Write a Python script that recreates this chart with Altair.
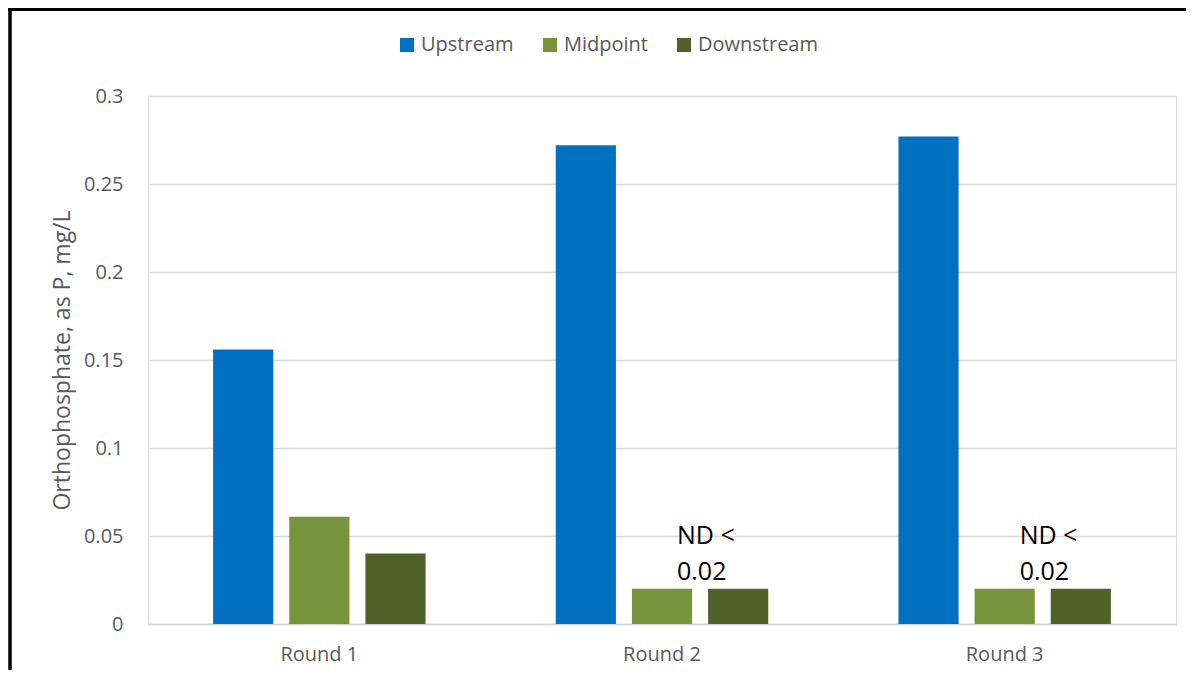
import altair as alt
import pandas as pd

rounds = ["Round 1", "Round 2", "Round 3"]
series = ["Upstream", "Midpoint", "Downstream"]
colors = ["#0070C0", "#77933C", "#4F6228"]
upstream = [0.156, 0.272, 0.277]
midpoint = [0.061, 0.02, 0.02]
downstream = [0.04, 0.02, 0.02]
nd_rounds = ["Round 2", "Round 3"]
nd_series = ["Midpoint", "Midpoint"]
nd_values = [0.02, 0.02]
nd_text = ["ND <\n0.02", "ND <\n0.02"]
y_ticks = [0, 0.05, 0.1, 0.15, 0.2, 0.25, 0.3]

rows = []
for s, vals in zip(series, [upstream, midpoint, downstream]):
    for r, v in zip(rounds, vals):
        rows.append({"Round": r, "Series": s, "Value": v})
df = pd.DataFrame(rows)
nd_df = pd.DataFrame({"Round": nd_rounds, "Series": nd_series, "Value": nd_values, "Label": nd_text})

FONT = "Open Sans"
GREY = "#595959"

x_enc = alt.X("Round:N", sort=rounds,
              scale=alt.Scale(paddingInner=0.38, paddingOuter=0.19),
              axis=alt.Axis(title=None, labelAngle=0, labelFontSize=20, labelColor=GREY,
                            labelFont=FONT, ticks=False, domainColor="#d9d9d9",
                            domainWidth=1.5, labelPadding=20, grid=False))
y_enc = alt.Y("Value:Q",
              scale=alt.Scale(domain=[0, 0.3], nice=False),
              axis=alt.Axis(title="Orthophosphate, as P, mg/L", values=y_ticks, format=".2~f",
                            labelFontSize=20, labelColor=GREY, labelFont=FONT,
                            titleFontSize=23, titleColor=GREY, titleFont=FONT,
                            titleFontWeight="normal", titlePadding=9,
                            ticks=False, domain=False, labelPadding=25,
                            gridColor="#d9d9d9", gridWidth=1.5))

bars = alt.Chart(df).mark_bar().encode(
    x=x_enc,
    xOffset=alt.XOffset("Series:N", sort=series,
                        scale=alt.Scale(domain=series, paddingInner=0.21, paddingOuter=0)),
    y=y_enc,
    color=alt.Color("Series:N", sort=series,
                    scale=alt.Scale(domain=series, range=colors),
                    legend=alt.Legend(title=None, orient="none", direction="horizontal",
                                      legendX=249, legendY=-61,
                                      symbolType="square", symbolSize=196,
                                      symbolStrokeWidth=0, labelFontSize=20,
                                      labelColor=GREY, labelFont=FONT, labelOffset=4,
                                      columnPadding=26)),
)

labels = alt.Chart(nd_df).mark_text(
    align="left", baseline="alphabetic", dx=15, dy=-45, fontSize=25,
    font=FONT, color="#000000", lineBreak="\n", lineHeight=36
).encode(
    x=alt.X("Round:N", sort=rounds),
    xOffset=alt.XOffset("Series:N", sort=series),
    y=alt.Y("Value:Q"),
    text="Label:N",
)

frame_df = pd.DataFrame({"k": [0]})
left_border = alt.Chart(frame_df).mark_rule(color="#000000", strokeWidth=3.5).encode(
    x=alt.value(-138), y=alt.value(-88), y2=alt.value(580))
top_border = alt.Chart(frame_df).mark_rule(color="#000000", strokeWidth=3).encode(
    x=alt.value(-140), x2=alt.value(1040), y=alt.value(-86.5))

chart = alt.layer(bars, labels, left_border, top_border).properties(
    width=1028, height=528,
    padding={"left": 140, "top": 88, "right": 10, "bottom": 46},
    autosize=alt.AutoSizeParams(type="none"),
).configure_view(stroke=None).configure(font=FONT)

chart.save("out.html", embed_options={"renderer": "svg", "actions": False})
